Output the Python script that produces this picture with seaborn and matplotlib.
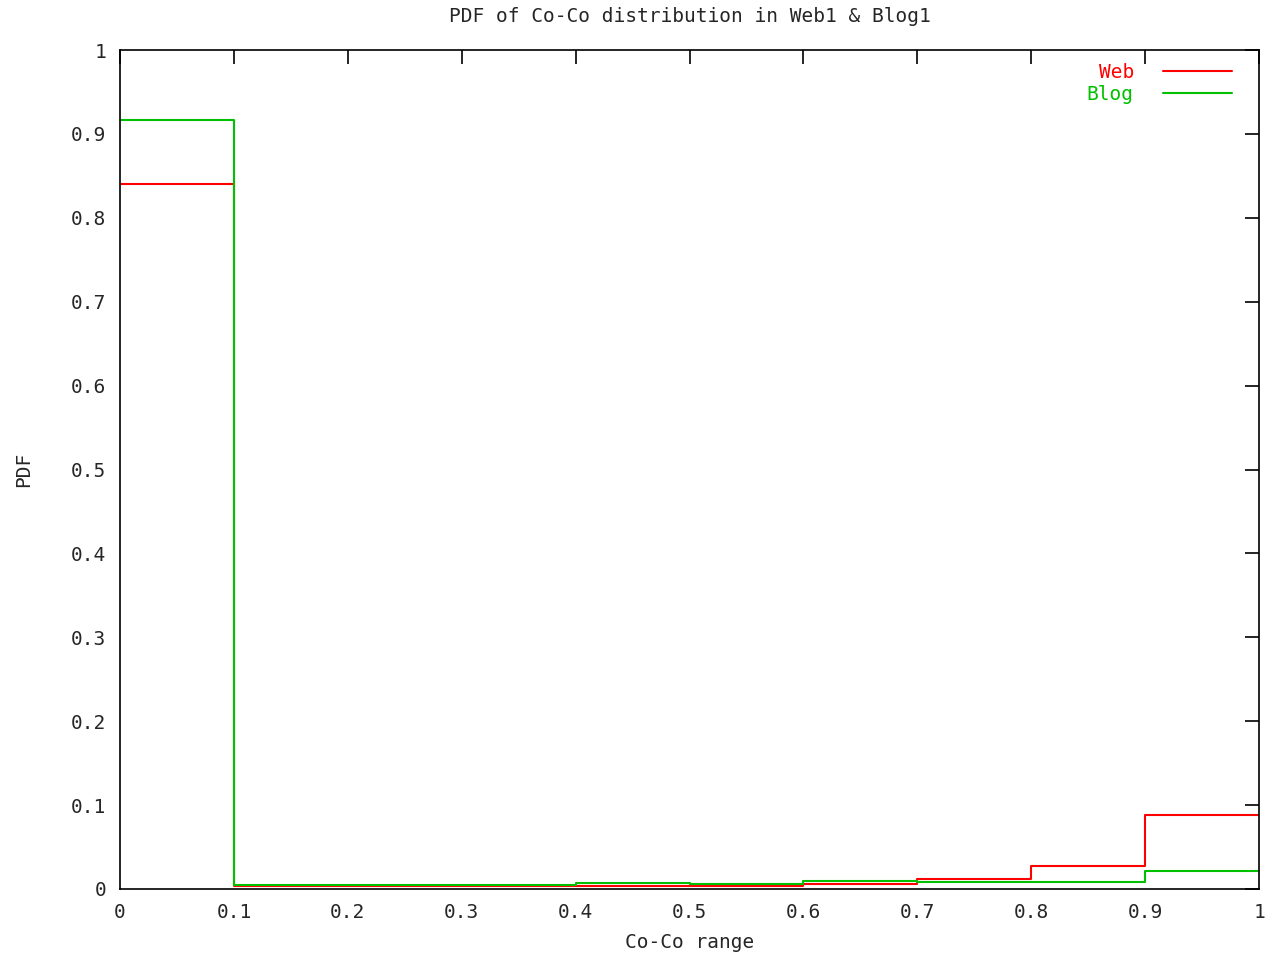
import numpy as np
import pandas as pd
import matplotlib
matplotlib.use("Agg")
import matplotlib.pyplot as plt
import seaborn as sns

# bin left edges of the Co-Co range
bin_edges = [0.0, 0.1, 0.2, 0.3, 0.4, 0.5, 0.6, 0.7, 0.8, 0.9, 1.0]
web_pdf = [0.840, 0.004, 0.004, 0.004, 0.003, 0.004, 0.006, 0.0115, 0.028, 0.0886]
blog_pdf = [0.917, 0.0043, 0.0043, 0.0043, 0.007, 0.006, 0.010, 0.0087, 0.0087, 0.021]
tick_values = [0, 0.1, 0.2, 0.3, 0.4, 0.5, 0.6, 0.7, 0.8, 0.9, 1]
tick_labels = ["0", "0.1", "0.2", "0.3", "0.4", "0.5", "0.6", "0.7", "0.8", "0.9", "1"]


def step_frame(values, name):
    # repeat last value so the step reaches the right edge
    return pd.DataFrame({"x": bin_edges, "pdf": list(values) + [values[-1]], "series": name})


df = pd.concat([step_frame(web_pdf, "Web"), step_frame(blog_pdf, "Blog")], ignore_index=True)

sns.set_style("white")
plt.rcParams["font.family"] = ["DejaVu Sans Mono"]
fs = 14

fig = plt.figure(figsize=(12.72, 9.56), dpi=100)
ax = fig.add_axes([120 / 1272, 1 - 889 / 956, 1139 / 1272, 839 / 956])

sns.lineplot(data=df, x="x", y="pdf", hue="series",
             palette={"Web": "#ff0000", "Blog": "#00c000"},
             drawstyle="steps-post", linewidth=1.5, ax=ax)

ax.set_xlim(0, 1)
ax.set_ylim(0, 1)
ax.set_xticks(tick_values)
ax.set_xticklabels(tick_labels)
ax.set_yticks(tick_values)
ax.set_yticklabels(tick_labels)
ax.tick_params(direction="in", length=10, width=1.2, color="black",
               top=True, right=True, labelsize=fs, pad=10)
for side in ax.spines.values():
    side.set_color("black")
    side.set_linewidth(1.2)

ax.set_title("PDF of Co-Co distribution in Web1 & Blog1", fontsize=fs, pad=20)
ax.set_xlabel("Co-Co range", fontsize=fs, labelpad=8)
ax.set_ylabel("PDF", fontsize=fs, labelpad=27)

leg = ax.legend(loc="upper right", bbox_to_anchor=(1 - 27 / 1139, 1 - 13 / 839),
                frameon=False, markerfirst=False, labelcolor="linecolor",
                fontsize=fs, handlelength=3.55, handletextpad=1.5,
                borderaxespad=0, borderpad=0, labelspacing=0.13)
for t in leg.get_texts():
    t.set_ha("right")
leg._legend_box.align = "right"

fig.savefig("out.png", dpi=100)
